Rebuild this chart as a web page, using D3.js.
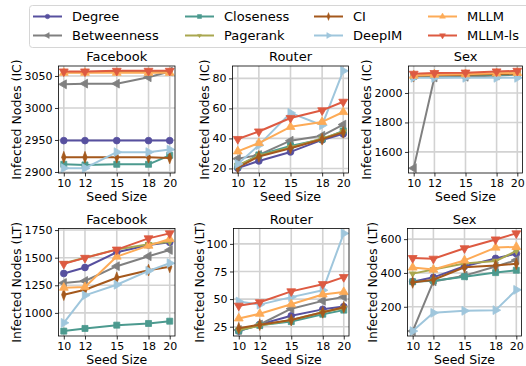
<!DOCTYPE html>
<html>
<head>
<meta charset="utf-8">
<script src="https://cdn.jsdelivr.net/npm/d3@7"></script>
<style>
  body { margin: 0; background: #fff; }
  svg { font-family: "DejaVu Sans", sans-serif; }
</style>
</head>
<body>
<div id="chart"></div>
<script>
// seed sizes on the x axis
var seeds = [10, 12, 15, 18, 20];

// method names, in plotting order
var methods = ["Degree", "Betweenness", "Closeness", "Pagerank", "CI", "DeepIM", "MLLM", "MLLM-ls"];
var colors = ["#57509f", "#808080", "#4c9a8f", "#a9a74f", "#a4581c", "#9fc6dc", "#fdab57", "#dd5a41"];
var markers = ["circle", "left", "square", "tri", "diamond", "right", "up", "down"];

// infected nodes, one row per method (same order as methods)
var facebookIC = [
  [2949, 2949, 2949, 2949, 2949],
  [3037, 3038, 3038, 3048, 3057],
  [2912, 2911, 2912, 2912, 2926],
  [3056, 3056, 3057, 3057, 3057],
  [2923, 2923, 2923, 2923, 2922],
  [2906, 2906, 2931, 2931, 2935],
  [3055, 3055, 3055, 3055, 3055],
  [3057, 3057, 3058, 3058, 3058]
];
var routerIC = [
  [20.2, 25, 31, 39, 43],
  [26.5, 29, 38.5, 41.8, 49.2],
  [21.5, 29, 35, 39.5, 45],
  [22, 28.5, 34, 40, 44.5],
  [20.5, 28, 33.5, 39.5, 44],
  [23, 35.5, 57, 48.8, 85],
  [31.4, 36.9, 47.7, 51, 57.6],
  [39.6, 44.6, 53.6, 58.7, 64.4]
];
var sexIC = [
  [2113, 2119, 2122, 2126, 2129],
  [1490, 2105, 2110, 2118, 2125],
  [2112, 2118, 2120, 2124, 2127],
  [2116, 2122, 2125, 2130, 2134],
  [2114, 2120, 2123, 2128, 2131],
  [2103, 2103, 2103, 2103, 2103],
  [2118, 2124, 2127, 2133, 2136],
  [2130, 2135, 2138, 2146, 2150]
];
var facebookLT = [
  [1357, 1411, 1549, 1615, 1639],
  [1271, 1289, 1423, 1513, 1570],
  [835, 859, 889, 904, 925],
  [1450, 1500, 1575, 1622, 1645],
  [1165, 1210, 1318, 1387, 1417],
  [910, 1159, 1255, 1381, 1450],
  [1228, 1234, 1510, 1609, 1669],
  [1444, 1498, 1573, 1675, 1720]
];
var routerLT = [
  [21, 27, 34.9, 40.7, 43.2],
  [22, 27, 41.3, 48.4, 52],
  [21.3, 26.2, 29.6, 36.3, 40],
  [22, 26, 31, 38, 42],
  [23.5, 26.8, 31, 38, 42.6],
  [47.8, 45, 51.8, 58, 109.5],
  [32.5, 36.7, 45.3, 54.2, 56.4],
  [44, 47.1, 57, 63.5, 69.9]
];
var sexLT = [
  [348, 374, 440, 486, 514],
  [56, 350, 384, 438, 476],
  [348, 354, 378, 402, 416],
  [396, 420, 456, 470, 530],
  [344, 360, 434, 444, 454],
  [56, 164, 176, 180, 300],
  [432, 420, 474, 550, 554],
  [488, 484, 546, 598, 634]
];

// y tick values per panel
var ticksFacebookIC = [2900, 2950, 3000, 3050];
var ticksRouterIC = [20, 40, 60, 80];
var ticksSexIC = [1600, 1800, 2000];
var ticksFacebookLT = [1000, 1250, 1500, 1750];
var ticksRouterLT = [25, 50, 75, 100];
var ticksSexLT = [200, 400, 600];

var svgWidth = 526, svgHeight = 366;

var svg = d3.select("#chart")
  .append("svg")
  .attr("width", svgWidth)
  .attr("height", svgHeight);

// panel boxes (left, right, top, bottom) and label positions
var panels = [
  { title: "Facebook", label: "Infected Nodes (IC)", data: facebookIC, ticks: ticksFacebookIC, x0: 58.5, x1: 175, y0: 66, y1: 173, lx: 17 },
  { title: "Router", label: "Infected Nodes (IC)", data: routerIC, ticks: ticksRouterIC, x0: 232.5, x1: 348.5, y0: 66, y1: 173, lx: 205 },
  { title: "Sex", label: "Infected Nodes (IC)", data: sexIC, ticks: ticksSexIC, x0: 408.5, x1: 522.5, y0: 66, y1: 173, lx: 367 },
  { title: "Facebook", label: "Infected Nodes (LT)", data: facebookLT, ticks: ticksFacebookLT, x0: 58.5, x1: 175, y0: 228.5, y1: 336, lx: 17 },
  { title: "Router", label: "Infected Nodes (LT)", data: routerLT, ticks: ticksRouterLT, x0: 233.5, x1: 349, y0: 228.5, y1: 336, lx: 200 },
  { title: "Sex", label: "Infected Nodes (LT)", data: sexLT, ticks: ticksSexLT, x0: 407.5, x1: 521.5, y0: 228.5, y1: 336, lx: 373 }
];

function markerPath(kind, size) {
  var sym;
  if (kind === "circle") sym = d3.symbolCircle;
  else if (kind === "square") sym = d3.symbolSquare;
  else if (kind === "diamond") sym = d3.symbolDiamond;
  else sym = d3.symbolTriangle;
  return d3.symbol().type(sym).size(size)();
}

function markerTransform(kind, x, y) {
  var rot = 0, sx = 1;
  if (kind === "left") rot = -90;
  if (kind === "right") rot = 90;
  if (kind === "down") rot = 180;
  if (kind === "tri") rot = 180;
  if (kind === "diamond") sx = 0.65;
  return `translate(${x},${y}) rotate(${rot}) scale(${sx},1)`;
}

function markerSize(kind) {
  if (kind === "tri") return 14;
  if (kind === "circle") return 36;
  if (kind === "square") return 36;
  if (kind === "diamond") return 40;
  return 34;
}

panels.forEach(function (p) {
  var g = svg.append("g");

  var xScale = d3.scaleLinear().domain([9.5, 20.5]).range([p.x0, p.x1]);

  var all = d3.merge(p.data);
  var lo = d3.min(all), hi = d3.max(all);
  var pad = (hi - lo) * 0.05;
  var yScale = d3.scaleLinear().domain([lo - pad, hi + pad]).range([p.y1, p.y0]);

  // grid
  g.append("g").selectAll("line")
    .data(seeds).enter().append("line")
    .attr("x1", d => xScale(d)).attr("x2", d => xScale(d))
    .attr("y1", p.y0).attr("y2", p.y1)
    .attr("stroke", "#d2d2d2").attr("stroke-width", 1.6);
  g.append("g").selectAll("line")
    .data(p.ticks).enter().append("line")
    .attr("x1", p.x0).attr("x2", p.x1)
    .attr("y1", d => yScale(d)).attr("y2", d => yScale(d))
    .attr("stroke", "#d2d2d2").attr("stroke-width", 1.6);

  // axes
  var bottomAxis = d3.axisBottom(xScale).tickValues(seeds).tickFormat(d3.format("d"))
    .tickSize(3.5).tickPadding(2.5);
  var leftAxis = d3.axisLeft(yScale).tickValues(p.ticks).tickFormat(d3.format("d"))
    .tickSize(3.5).tickPadding(2.5);

  var xAxis = g.append("g")
    .attr("transform", `translate(0, ${p.y1})`)
    .call(bottomAxis);
  var yAxis = g.append("g")
    .attr("transform", `translate(${p.x0}, 0)`)
    .call(leftAxis);
  [xAxis, yAxis].forEach(function (a) {
    a.select(".domain").remove();
    a.selectAll("text").attr("font-size", "11px").attr("fill", "#000")
      .attr("font-family", "DejaVu Sans");
    a.selectAll("line").attr("stroke", "#000").attr("stroke-width", 0.8);
  });

  // lines and markers
  var line = d3.line()
    .x((d, i) => xScale(seeds[i]))
    .y(d => yScale(d));

  p.data.forEach(function (vals, m) {
    g.append("path")
      .datum(vals)
      .attr("d", line)
      .attr("fill", "none")
      .attr("stroke", colors[m])
      .attr("stroke-width", 2)
      .attr("stroke-linejoin", "round");
    g.append("g").selectAll("path")
      .data(vals).enter().append("path")
      .attr("d", markerPath(markers[m], markerSize(markers[m])))
      .attr("transform", (d, i) => markerTransform(markers[m], xScale(seeds[i]), yScale(d)))
      .attr("fill", colors[m])
      .attr("stroke", colors[m])
      .attr("stroke-width", markers[m] === "tri" ? 1.2 : 0.8);
  });

  // frame
  g.append("rect")
    .attr("x", p.x0).attr("y", p.y0)
    .attr("width", p.x1 - p.x0).attr("height", p.y1 - p.y0)
    .attr("fill", "none").attr("stroke", "#000").attr("stroke-width", 0.8);

  // title
  g.append("text")
    .attr("x", (p.x0 + p.x1) / 2).attr("y", p.y0 - 5)
    .attr("text-anchor", "middle")
    .attr("font-size", "13px")
    .text(p.title);

  // x label
  g.append("text")
    .attr("x", (p.x0 + p.x1) / 2).attr("y", p.y1 + 28)
    .attr("text-anchor", "middle")
    .attr("font-size", "12.5px")
    .text("Seed Size");

  // y label
  g.append("text")
    .attr("transform", `translate(${p.lx}, ${(p.y0 + p.y1) / 2}) rotate(-90)`)
    .attr("text-anchor", "middle")
    .attr("dy", "0.35em")
    .attr("font-size", "12.5px")
    .text(p.label);
});

// legend
var legend = svg.append("g");
legend.append("rect")
  .attr("x", 29.5).attr("y", 5.5)
  .attr("width", 520).attr("height", 42)
  .attr("rx", 3)
  .attr("fill", "#fff").attr("fill-opacity", 0.85)
  .attr("stroke", "#d6d6d6").attr("stroke-width", 1);

var colX = [33, 185, 314, 428];
var rowY = [16.5, 35.5];

methods.forEach(function (name, m) {
  var c = Math.floor(m / 2), r = m % 2;
  var x = colX[c], y = rowY[r];
  legend.append("line")
    .attr("x1", x).attr("x2", x + 29)
    .attr("y1", y).attr("y2", y)
    .attr("stroke", colors[m]).attr("stroke-width", 2);
  legend.append("path")
    .attr("d", markerPath(markers[m], markerSize(markers[m]) * 0.45))
    .attr("transform", markerTransform(markers[m], x + 14.5, y))
    .attr("fill", colors[m]).attr("stroke", colors[m]).attr("stroke-width", 0.5);
  legend.append("text")
    .attr("x", x + 39).attr("y", y)
    .attr("dy", "0.36em")
    .attr("font-size", "13px")
    .text(name);
});
</script>
</body>
</html>
